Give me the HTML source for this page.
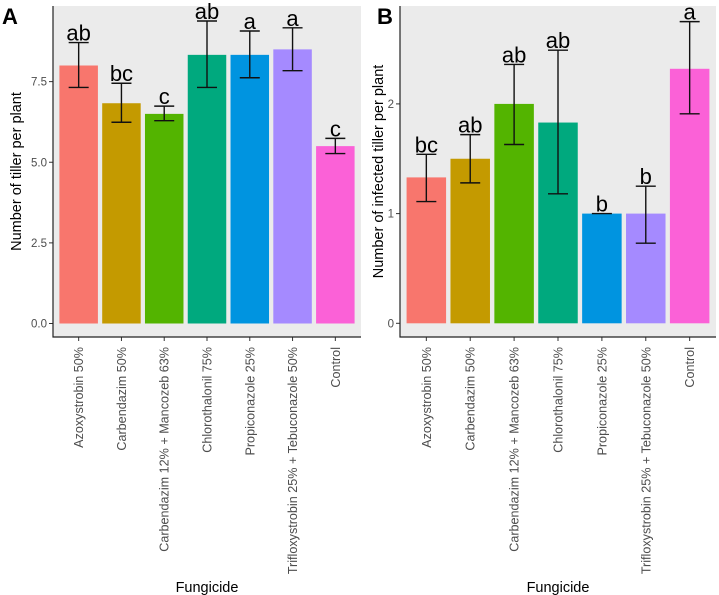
<!DOCTYPE html>
<html><head><meta charset="utf-8"><style>
body{margin:0;background:#fff;}
svg{display:block;font-family:"Liberation Sans",Arial,sans-serif;}
</style></head><body>
<svg id="chart" width="719" height="595" viewBox="0 0 719 595" xmlns="http://www.w3.org/2000/svg"></svg>
<script>
const categories = ["Azoxystrobin  50%","Carbendazim 50%","Carbendazim 12% + Mancozeb 63%","Chlorothalonil 75%","Propiconazole 25%","Trifloxystrobin 25% + Tebuconazole 50%","Control"];
const colors = ["#F8766D","#C49A00","#53B400","#00A97E","#0094E0","#A58AFF","#FB61D7"];
const tillerValues = [8.0,6.83,6.5,8.33,8.33,8.5,5.5];
const tillerLow = [7.32,6.24,6.29,7.32,7.62,7.84,5.27];
const tillerHigh = [8.71,7.45,6.74,9.38,9.07,9.17,5.74];
const tillerLetters = ["ab","bc","c","ab","a","a","c"];
const tillerTicks = [0,2.5,5,7.5];
const tillerTickLabels = ["0.0","2.5","5.0","7.5"];
const infValues = [1.33,1.5,2.0,1.83,1.0,1.0,2.32];
const infLow = [1.11,1.28,1.63,1.18,1.0,0.73,1.91];
const infHigh = [1.54,1.72,2.36,2.49,1.0,1.25,2.75];
const infLetters = ["bc","ab","ab","ab","b","b","a"];
const infTicks = [0,1,2];
const infTickLabels = ["0","1","2"];

const NS="http://www.w3.org/2000/svg";
const svg=document.getElementById('chart');
function el(tag,attrs,parent){const e=document.createElementNS(NS,tag);for(const k in attrs)e.setAttribute(k,attrs[k]);(parent||svg).appendChild(e);return e;}

function panel(cfg){
  const g=el('g',{});
  
  
  const {left,right,top,bottom,zeroY,ppu}=cfg;
  const y=v=>zeroY-v*ppu;
  const step=(right-left)/(categories.length-1+1.2);
  const x=i=>left+step*(0.6+i);
  const bw=step*0.9;
  const bg=el('rect',{x:left,y:top,width:right-left,height:bottom-top,fill:'#EBEBEB'},g);
  
  
  cfg.ticks.forEach((t,i)=>{
    const yy=y(t);
    const tk=el('line',{x1:left-4,x2:left,y1:yy,y2:yy,stroke:'#333','stroke-width':1},g);
    
    
    const tl=el('text',{x:left-6,y:yy+4,'text-anchor':'end','font-size':11.5,fill:'#4D4D4D'},g);
    tl.textContent=cfg.tickLabels[i];
    
    
  });
  categories.forEach((c,i)=>{
    const cx=x(i);
    const b=el('rect',{x:cx-bw/2,y:y(cfg.values[i]),width:bw,height:y(0)-y(cfg.values[i]),fill:colors[i]},g);
    
    
    const hi=y(cfg.high[i]),lo=y(cfg.low[i]);
    const eb=el('path',{d:`M${cx-10},${hi}H${cx+10}M${cx},${hi}V${lo}M${cx-10},${lo}H${cx+10}`,stroke:'#111','stroke-width':1.4,fill:'none'},g);
    
    
    const lt=el('text',{x:cx,y:hi-2,'text-anchor':'middle','font-size':22,fill:'#000'},g);
    lt.textContent=cfg.letters[i];
    
    
    const xt=el('line',{x1:cx,x2:cx,y1:bottom,y2:bottom+4,stroke:'#333'},g);
    
    
    const xl=el('text',{x:0,y:0,transform:`translate(${cx+4.5},${bottom+10}) rotate(-90)`,'text-anchor':'end','font-size':12.6,fill:'#4D4D4D'},g);
    xl.textContent=c;
    
    
  });
  const ax=el('path',{d:`M${left},${top}V${bottom}H${right}`,stroke:'#222','stroke-width':1.2,fill:'none'},g);
  
  
  const yt=el('text',{x:0,y:0,transform:`translate(${cfg.ytX},${(top+bottom)/2}) rotate(-90)`,'text-anchor':'middle','font-size':14.5,fill:'#000'},g);
  yt.textContent=cfg.ytitle;
  
  
  const xtt=el('text',{x:(left+right)/2,y:592,'text-anchor':'middle','font-size':14.5,fill:'#000'},g);
  xtt.textContent='Fungicide';
  
  
  const pl=el('text',{x:cfg.labelX,y:24,'font-size':22,'font-weight':'bold',fill:'#000'},g);
  pl.textContent=cfg.label;
  
  
}
panel({name:'panel-a',left:53,right:361,top:6,bottom:337,zeroY:323.5,ppu:32.25,ticks:tillerTicks,tickLabels:tillerTickLabels,values:tillerValues,low:tillerLow,high:tillerHigh,letters:tillerLetters,ytitle:'Number of tiller per plant',ytX:21,label:'A',labelX:2});
panel({name:'panel-b',left:400,right:716,top:6,bottom:337,zeroY:323.3,ppu:109.7,ticks:infTicks,tickLabels:infTickLabels,values:infValues,low:infLow,high:infHigh,letters:infLetters,ytitle:'Number of infected tiller per plant',ytX:383,label:'B',labelX:377});
</script>
</body></html>
